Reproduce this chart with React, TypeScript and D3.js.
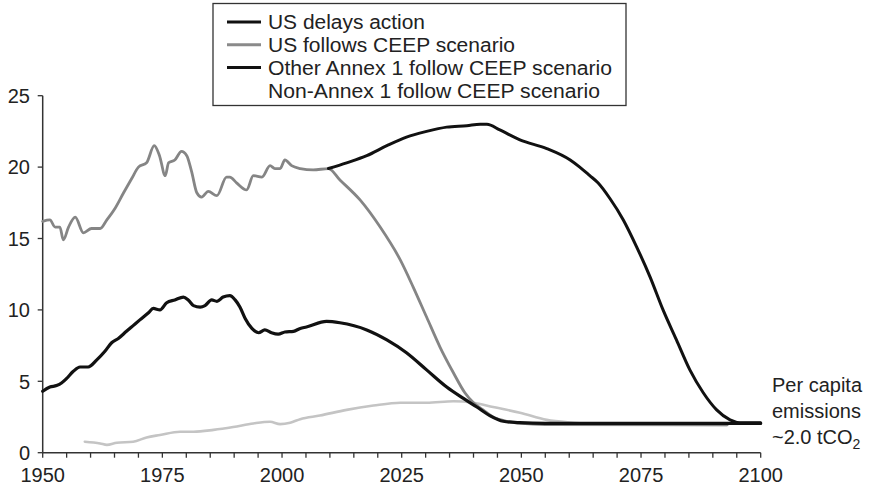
import React from "react";
import * as d3 from "d3";

type Pt = [number, number];

// US (historical, then following the CEEP scenario)
const usFollowsCeep: Pt[] = [
  [1950, 16.2], [1951.5, 16.3], [1952.6, 15.8], [1953.6, 15.8], [1954.3, 14.9], [1955.4, 15.8],
  [1956.8, 16.5], [1958.5, 15.4], [1960.2, 15.7], [1962, 15.7], [1963.4, 16.3], [1965.1, 17.1],
  [1966.9, 18.2], [1968.6, 19.2], [1970, 20.0], [1971.7, 20.3], [1973.3, 21.5], [1974.4, 20.8],
  [1975.6, 19.4], [1976.3, 20.3], [1977.6, 20.5], [1979, 21.1], [1980.1, 20.8], [1981.1, 19.7],
  [1982.2, 18.2], [1983.2, 17.9], [1984.6, 18.3], [1986.4, 18.0], [1988.4, 19.3], [1989.1, 19.3],
  [1990.5, 18.9], [1992.6, 18.4], [1994, 19.4], [1995.8, 19.3], [1997.5, 20.1], [1998.5, 19.9],
  [1999.6, 19.9], [2000.6, 20.5], [2002, 20.1], [2003.8, 19.9], [2006.5, 19.8], [2009.7, 19.9],
  [2012.1, 19.1], [2016.3, 17.7], [2020.5, 15.8], [2024.7, 13.5], [2027.4, 11.6], [2030.2, 9.5],
  [2033, 7.4], [2035.8, 5.6], [2038.2, 4.2], [2040, 3.5], [2042, 3.0], [2044.1, 2.5],
  [2046.9, 2.2], [2050, 2.05], [2055, 1.97], [2093, 1.95],
];

// US delays action (branches off in ~2010)
const usDelaysAction: Pt[] = [
  [2009.7, 19.9], [2013.5, 20.3], [2017.7, 20.8], [2021.9, 21.5], [2026, 22.1], [2030.2, 22.5],
  [2034.4, 22.8], [2038.6, 22.9], [2041.4, 23.0], [2042.8, 23.0], [2045.5, 22.6], [2049.7, 21.9],
  [2055.3, 21.3], [2060.2, 20.5], [2062.2, 20.0], [2064.3, 19.4], [2066, 18.9], [2068.5, 17.8],
  [2071.3, 16.3], [2074.1, 14.4], [2076.9, 12.3], [2079.6, 10.0], [2082.4, 7.9], [2085.2, 5.8],
  [2088, 4.2], [2090.8, 3.0], [2093.6, 2.3], [2095.7, 2.1], [2100, 2.1],
];

// Other Annex 1 follow CEEP scenario
const otherAnnex1: Pt[] = [
  [1950, 4.3], [1951.5, 4.6], [1952.9, 4.7], [1954, 4.9], [1955, 5.2], [1956.4, 5.7],
  [1957.8, 6.0], [1959.5, 6.0], [1961.3, 6.5], [1963, 7.1], [1964.4, 7.7], [1965.8, 8.0],
  [1967.5, 8.5], [1968.9, 8.9], [1970.3, 9.3], [1972.1, 9.8], [1973.1, 10.1], [1974.5, 10.0],
  [1975.9, 10.5], [1977.6, 10.7], [1979.4, 10.9], [1980.4, 10.7], [1981.5, 10.3], [1982.9, 10.2],
  [1983.9, 10.3], [1985.3, 10.7], [1986.4, 10.6], [1987.7, 10.9], [1989.1, 11.0], [1990.2, 10.7],
  [1991.2, 10.2], [1992.3, 9.4], [1993.7, 8.7], [1995.1, 8.4], [1996.4, 8.6], [1997.8, 8.4],
  [1999.2, 8.3], [2000.6, 8.45], [2002.4, 8.5], [2003.8, 8.7], [2005.1, 8.8], [2009.3, 9.2],
  [2012.1, 9.1], [2017.7, 8.6], [2021.9, 7.9], [2026, 7.0], [2030.2, 5.8], [2034.4, 4.6],
  [2037.9, 3.8], [2040.7, 3.2], [2043.4, 2.6], [2046.2, 2.2], [2049.7, 2.1], [2055, 2.05],
  [2100, 2.05],
];

// Non-Annex 1 follow CEEP scenario
const nonAnnex1: Pt[] = [
  [1958.8, 0.77], [1962, 0.65], [1963.4, 0.55], [1965.5, 0.7], [1968.9, 0.77], [1971.7, 1.07],
  [1974.5, 1.24], [1978.7, 1.47], [1981.5, 1.47], [1985.7, 1.6], [1989.8, 1.8], [1994, 2.05],
  [1997.5, 2.17], [1999.6, 2.0], [2001.7, 2.1], [2003.8, 2.35], [2007.9, 2.6], [2013.5, 3.0],
  [2019.1, 3.3], [2024.7, 3.5], [2030.2, 3.5], [2035.8, 3.6], [2040, 3.5], [2044.1, 3.2],
  [2049.7, 2.8], [2055.3, 2.3], [2060.8, 2.1], [2066.4, 1.98], [2093, 1.95],
];

const legendLabels = [
  "US delays action",
  "US follows CEEP scenario",
  "Other Annex 1 follow CEEP scenario",
  "Non-Annex 1 follow CEEP scenario",
];
const legendTextWidths = [157, 247, 344, 332];
const xTickYears = d3.range(1950, 2101, 5);
const xLabelYears = [1950, 1975, 2000, 2025, 2050, 2075, 2100];
const yTickValues = [0, 5, 10, 15, 20, 25];
const noteLines = ["Per capita", "emissions"];

const W = 869;
const H = 491;
const FONT = "'Liberation Sans', Arial, Helvetica, sans-serif";

export default function App() {
  const x = d3.scaleLinear().domain([1950, 2100]).range([42.7, 760.7]);
  const y = d3.scaleLinear().domain([0, 25]).range([452.7, 95.7]);
  const line = d3
    .line<Pt>()
    .x((d) => x(d[0]))
    .y((d) => y(d[1]))
    .curve(d3.curveMonotoneX);

  const series = [
    { data: nonAnnex1, color: "#c4c4c4", width: 2.6 },
    { data: usFollowsCeep, color: "#858585", width: 2.8 },
    { data: otherAnnex1, color: "#111", width: 3.2 },
    { data: usDelaysAction, color: "#111", width: 3 },
  ];

  const legendColors = ["#111", "#8a8a8a", "#111", null];

  return (
    <svg
      width={W}
      height={H}
      style={{ position: "absolute", left: 0, top: 0, background: "#fff" }}
      fontFamily={FONT}
    >
      <rect x={0} y={0} width={W} height={H} fill="#fff" />
      {/* axes */}
      <line x1={x(1950)} x2={x(1950)} y1={y(0)} y2={y(25)} stroke="#333" strokeWidth={1.5} />
      <line x1={x(1950)} x2={x(2100)} y1={y(0)} y2={y(0)} stroke="#333" strokeWidth={1.5} />
      {yTickValues.map((v) => (
        <g key={"y" + v}>
          <line x1={x(1950) - 5} x2={x(1950)} y1={y(v)} y2={y(v)} stroke="#333" strokeWidth={1.3} />
          <text x={30} y={y(v)} dy="0.36em" textAnchor="end" fontSize={20} fill="#222">
            {v}
          </text>
        </g>
      ))}
      {xTickYears.map((yr) => (
        <line key={"x" + yr} x1={x(yr)} x2={x(yr)} y1={y(0)} y2={y(0) + 5} stroke="#333" strokeWidth={1.3} />
      ))}
      {xLabelYears.map((yr) => (
        <text key={"xl" + yr} x={x(yr)} y={482} textAnchor="middle" fontSize={20} fill="#222">
          {yr}
        </text>
      ))}

      {/* series */}
      {series.map((s, i) => (
        <path
          key={i}
          d={line(s.data) || ""}
          fill="none"
          stroke={s.color}
          strokeWidth={s.width}
          strokeLinejoin="round"
          strokeLinecap="round"
        />
      ))}

      {/* legend */}
      <rect x={213} y={3.5} width={413} height={102} fill="#fff" stroke="#333" strokeWidth={1.3} />
      {legendLabels.map((lab, i) => {
        const cy = 22 + i * 22.8;
        const c = legendColors[i];
        return (
          <g key={lab}>
            {c && <line x1={227} x2={261} y1={cy} y2={cy} stroke={c} strokeWidth={3} />}
            <text
              x={268}
              y={cy}
              dy="0.36em"
              fontSize={20}
              fill="#222"
              textLength={legendTextWidths[i]}
              lengthAdjust="spacingAndGlyphs"
            >
              {lab}
            </text>
          </g>
        );
      })}

      {/* annotation */}
      {noteLines.map((t, i) => (
        <text key={t} x={772} y={392 + i * 26} fontSize={20} fill="#222">
          {t}
        </text>
      ))}
      <text x={772} y={444} fontSize={20} fill="#222">
        ~2.0 tCO
        <tspan fontSize={14} dy={5}>
          2
        </tspan>
      </text>
    </svg>
  );
}
